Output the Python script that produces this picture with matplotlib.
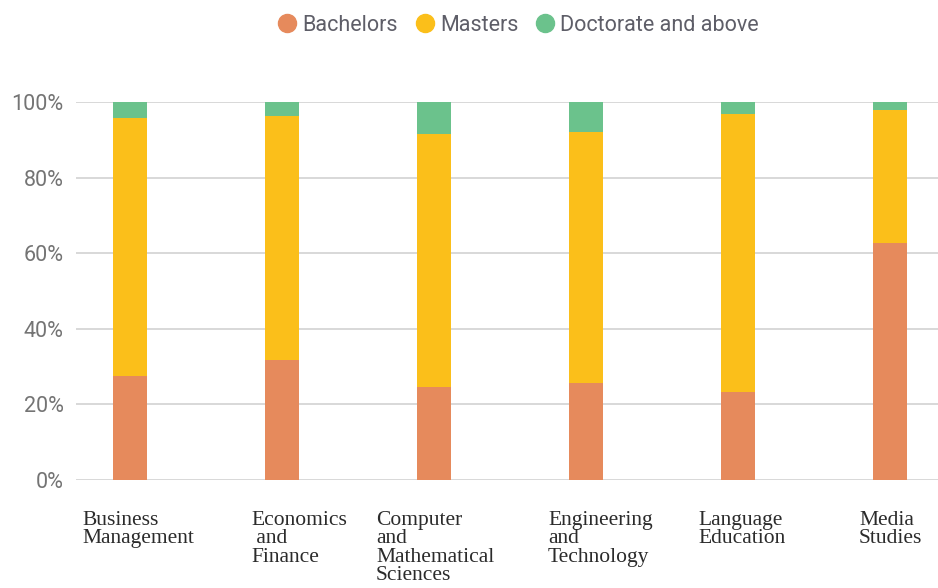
import numpy as np
import matplotlib.pyplot as plt
from matplotlib.lines import Line2D
from matplotlib.ticker import FuncFormatter
from matplotlib.transforms import ScaledTranslation

# share of graduates by highest degree, per subject (percent)
subjects = ["Business\nManagement", "Economics\n and\nFinance",
            "Computer\nand\nMathematical\nSciences", "Engineering\nand\nTechnology",
            "Language\nEducation", "Media\nStudies"]
bachelors = [27.6, 31.7, 24.6, 25.8, 23.4, 62.7]
masters = [68.2, 64.7, 67.0, 66.4, 73.5, 35.3]
doctorate = [4.2, 3.6, 8.4, 7.8, 3.1, 2.0]

series_names = ["Bachelors", "Masters", "Doctorate and above"]
series_colors = ["#E68A5C", "#FBBF1A", "#6BC28C"]

# left edge of each subject label relative to its bar centre, in pixels
label_shift = [-48, -31, -58, -38, -40, -31]

fig = plt.figure(figsize=(9.38, 5.88), dpi=100)
ax = fig.add_axes([0.081, 0.1837, 0.919, 0.6423])

x = np.arange(len(subjects))
bottom = np.zeros(len(subjects))
for vals, color in zip([bachelors, masters, doctorate], series_colors):
    ax.bar(x, vals, width=0.224, bottom=bottom, color=color, zorder=3)
    bottom += np.array(vals)

ax.set_xlim(-0.355, 5.316)
ax.set_ylim(0, 100)
ax.set_yticks(np.arange(0, 101, 20))
ax.yaxis.set_major_formatter(FuncFormatter(lambda v, _: f"{v:.0f}%"))
ax.grid(axis="y", color="#d6d6d6", linewidth=1.3, zorder=0)
for s in ax.spines.values():
    s.set_visible(False)
ax.tick_params(axis="y", length=0, pad=9, labelsize=15.5, labelcolor="#747474")
for lbl in ax.get_yticklabels():
    lbl.set_family("Roboto")

ax.set_xticks(x)
ax.set_xticklabels(subjects, family="Liberation Serif", fontsize=15.5,
                   color="#2b2b2b", linespacing=0.97, va="top", ha="left",
                   multialignment="left")
ax.tick_params(axis="x", length=0, pad=22)
for lbl, dx in zip(ax.get_xticklabels(), label_shift):
    lbl.set_transform(lbl.get_transform() + ScaledTranslation(dx / 100, 0, fig.dpi_scale_trans))

handles = [Line2D([], [], marker="o", linestyle="", markersize=13,
                  markerfacecolor=c, markeredgecolor=c) for c in series_colors]
fig.legend(handles, series_names, loc="center", ncol=3, frameon=False,
           bbox_to_anchor=(0.552, 0.957), handlelength=1.0, handletextpad=0.2,
           columnspacing=0.75, prop={"family": "Roboto", "size": 15.5},
           labelcolor="#5e5e68")

fig.savefig("out.png", dpi=100)
